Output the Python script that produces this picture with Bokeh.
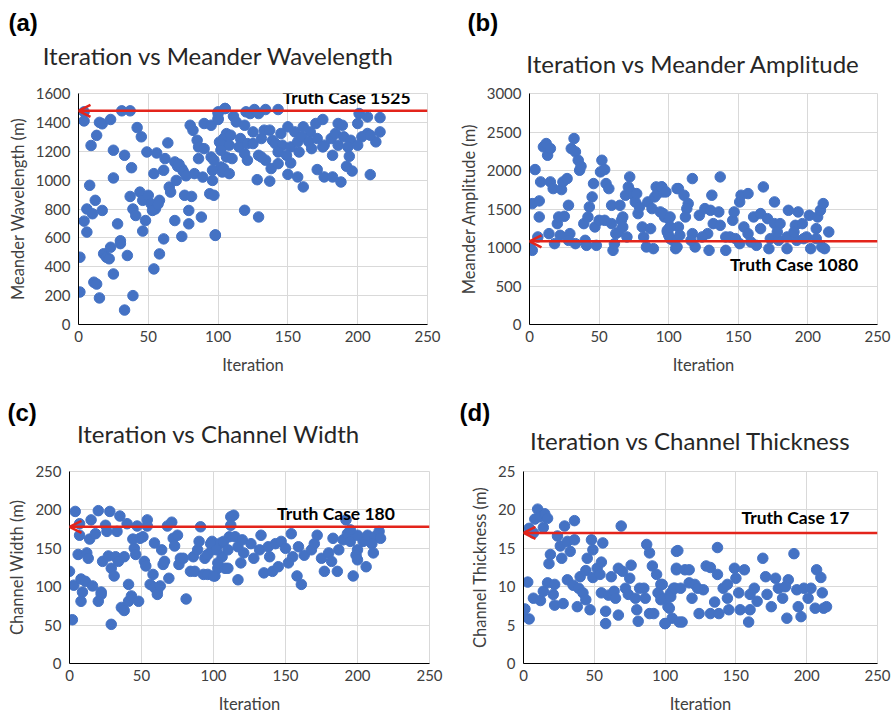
from bokeh.plotting import figure
from bokeh.layouts import column, row
from bokeh.models import Arrow, OpenHead, Label, Range1d, SingleIntervalTicker
from bokeh.embed import file_html
from bokeh.resources import INLINE

# ---------------- data ----------------
a_iter = [1,1,4,4,4,6,6,9,8,10,12,13,15,17,17,11,13,15,18,20,22,23,23,25,25,25,28,30,30,31,33,33,35,37,37,38,39,39,41,42,44,45,46,46,48,49,50,52,54,54,55,56,58,58,61,61,62,64,65,66,69,70,71,74,74,76,79,79,80,81,82,83,85,86,86,88,89,90,90,94,95,96,98,100,100,101,102,103,105,106,106,
          69,72,75,77,53,57,
          95,100,105,100,111,113,119,120,123,126,129,134,143,125,133,137,145,150,155,161,166,170,175,186,189,201,207,216,216,213,207,200,
          104,109,116,102,108,115,121,125,131,139,141,146,152,157,160,165,171,176,181,184,190,195,203,209,
          102,110,119,129,134,143,149,158,167,175,182,186,193,194,200,
          97,96,104,108,121,128,131,138,137,143,150,152,157,161,171,176,182,188,192,196,209,97,119,129,98]
a_val = [225,466,1473,1410,716,640,800,1240,964,767,860,1310,1400,1390,790,293,280,184,490,466,455,535,1420,1207,1015,350,697,580,560,1480,1172,100,478,1480,887,1086,200,800,755,1364,917,1300,860,647,720,1195,895,836,1045,385,800,1188,860,489,1068,593,1149,1258,952,917,720,998,1096,1079,610,895,697,790,1380,887,1345,1045,1276,1230,1149,744,1021,1392,1218,906,1160,998,621,1473,1427,1264,1091,1056,1496,1160,1322,
         1126,1110,1062,1030,790,835,
         1380,1461,1496,1420,1443,1403,1380,1473,1461,1489,1461,1489,1489,1334,1346,1346,1323,1369,1334,1369,1334,1392,1420,1392,1380,1461,1438,1433,1334,1265,1323,1392,
         1288,1311,1288,1253,1242,1230,1253,1253,1288,1276,1253,1242,1230,1265,1300,1265,1288,1242,1288,1323,1300,1276,1300,1311,
         1207,1149,1184,1172,1138,1195,1172,1195,1218,1230,1172,1242,1230,1165,1242,
         1138,1068,1080,1045,1138,1003,1160,1080,993,1114,1040,1119,1022,953,1073,1022,1022,987,1096,1063,1038,895,791,745,617]

b_iter = [0,2,2,4,6,7,7,8,10,12,13,15,14,15,17,18,20,21,22,23,24,25,27,28,29,28,30,32,33,35,36,37,33,39,40,41,42,43,45,46,47,48,50,51,52,54,54,55,57,59,59,60,61,62,64,65,66,67,67,69,70,71,72,73,75,76,77,78,79,81,82,84,85,87,88,89,90,91,92,94,95,96,97,99,100,101,101,103,106,105,
          95,98,107,111,117,137,131,114,113,112,96,101,107,99,100,108,106,117,119,122,126,130,136,132,137,128,129,141,146,147,152,157,151,154,157,151,144,161,166,168,176,171,176,166,173,163,172,180,186,193,191,196,201,185,179,185,192,199,202,206,207,209,211,210,212,215,206,197,190,178,159,148,141,124,116,101]
b_val = [1028,963,1570,2012,1137,1397,1605,1852,2307,2350,2198,2285,1180,1852,1765,1050,1310,1397,1158,1752,1852,1405,1895,1548,1180,1093,2285,2415,2242,2133,2003,2055,1050,1310,1093,1028,1397,1527,1657,1830,1267,1028,1353,1982,2133,2012,1353,1830,1765,1310,1548,963,1050,1180,1202,1548,1353,1397,1267,1679,1137,1787,1917,1722,1679,1592,1700,1440,1527,1267,1137,1007,1592,1245,1505,985,1657,1787,1700,1462,1787,1722,1397,1202,1375,1267,1115,1093,1765,985,
         1787,1722,1765,1679,1895,1917,1679,1570,1505,1397,1440,1397,1267,1224,1158,1158,1007,1180,1007,1418,1505,1483,1462,1310,1288,1180,963,963,1353,1462,1679,1700,1592,1267,1180,1050,1137,1397,1440,1787,1592,1375,1310,1245,1115,1028,985,1310,1483,1462,1288,1310,1418,1137,1093,985,1093,1137,985,1245,1397,1483,1570,1007,985,1202,1115,1115,1202,1202,1072,1115,1137,1137,1093,1267]

c_iter = [0,2,3,4,6,7,7,8,9,8,11,12,13,14,15,16,18,20,20,22,22,23,25,26,27,28,29,29,31,32,33,34,35,36,38,38,41,40,41,43,44,45,46,47,48,49,51,52,53,54,54,56,58,59,59,61,61,63,64,65,66,69,68,71,72,73,75,76,77,79,81,84,86,87,89,90,91,93,94,96,96,99,99,101,103,105,106,108,111,112,
          114,112,115,107,98,102,110,117,120,126,133,132,121,128,103,110,119,117,100,138,139,135,141,145,143,147,150,154,155,152,158,161,159,163,168,172,170,177,175,180,183,182,186,187,190,192,193,195,200,197,199,200,204,206,207,211,212,215,216,210,200,195]
c_val = [120,57,102,198,142,167,182,110,93,81,107,144,137,162,187,101,169,199,81,90,93,133,180,172,140,198,51,124,114,139,172,133,192,73,69,139,103,182,81,88,162,150,142,179,81,163,165,133,127,187,179,103,116,99,157,94,90,101,148,129,133,111,179,184,163,153,167,129,137,137,84,120,139,120,148,159,178,116,137,116,142,159,148,114,124,157,139,124,165,191,
         193,180,165,159,156,148,148,152,161,156,167,148,144,137,131,124,131,109,114,152,139,118,120,126,156,159,150,169,139,131,114,103,152,141,148,167,156,120,137,144,163,133,120,148,161,187,169,159,148,114,141,135,159,126,167,144,165,172,163,156,167,174]

d_iter = [0,1,4,3,4,7,7,8,10,12,12,14,15,17,14,18,19,17,21,22,22,24,26,27,28,29,31,31,33,35,36,36,38,39,40,42,44,45,44,47,48,49,49,52,54,55,56,55,58,58,60,62,64,65,67,67,69,70,72,74,75,76,79,80,81,82,85,86,87,89,91,89,92,94,95,97,99,100,102,104,105,106,108,108,110,
          98,97,100,103,104,107,109,108,112,114,117,117,121,119,124,127,129,132,137,137,132,135,138,141,144,145,149,150,152,153,156,159,160,163,165,169,171,172,175,178,180,183,186,187,191,193,194,196,198,201,203,207,210,211,212,214,206,185,160,144,123,111]
d_val = [6.1,7.1,5.8,10.6,17.6,17.0,8.5,18.8,20.1,8.2,19.1,17.7,19.5,18.9,9.4,13.0,14.2,10.5,9.0,10.3,7.6,16.6,15.3,13.7,7.8,17.9,10.9,15.9,14.6,10.2,18.6,16.1,7.4,9.8,11.3,9.2,8.3,13.7,12.1,7.0,16.1,11.2,14.8,12.4,11.6,13.2,15.7,9.2,5.2,6.8,8.9,11.3,9.4,8.5,6.3,12.4,17.9,12.0,9.8,9.0,11.1,12.8,8.5,7.0,5.5,9.8,9.8,8.5,15.5,14.4,12.7,6.5,6.5,11.6,9.2,10.3,8.5,5.2,7.4,9.2,5.9,9.8,14.6,12.2,5.4,
         10.3,8.3,5.2,7.2,8.7,9.8,14.7,12.4,5.4,12.2,12.2,10.5,10.3,8.5,6.5,9.6,12.7,12.5,11.6,15.1,6.5,8.0,6.5,9.8,8.5,7.0,12.4,11.1,9.2,7.0,12.2,5.4,7.0,9.8,8.1,13.7,11.3,9.0,7.4,11.1,9.8,8.5,5.9,10.9,14.3,9.6,7.4,6.1,9.8,8.5,9.8,12.2,11.2,9.2,7.2,7.4,7.2,10.0,9.0,10.3,9.8,9.8]

titles = ["Iteration vs Meander Wavelength", "Iteration vs Meander Amplitude",
          "Iteration vs Channel Width", "Iteration vs Channel Thickness"]
panel_tags = ["(a)", "(b)", "(c)", "(d)"]
y_labels = ["Meander Wavelength (m)", "Meander Amplitude (m)", "Channel Width (m)", "Channel Thickness (m)"]
truth_vals = [1480, 1080, 178, 17]
truth_texts = ["Truth Case 1525", "Truth Case 1080", "Truth Case 180", "Truth Case 17"]
y_max = [1600, 3000, 250, 25]
y_step = [200, 500, 50, 5]

BLUE = "#4472C4"
RED = "#E3241B"
GRID = "#D9D9D9"
TXT = "#404040"
FONT = "Lato"
PAGE_W = 894


def make_header(idx, height, tag_pos, title_pos):
    """A full-width strip holding the panel letters and chart titles of one row."""
    h = figure(width=PAGE_W, height=height, output_backend="svg", toolbar_location=None,
               x_range=Range1d(0, PAGE_W), y_range=Range1d(0, height),
               x_axis_type=None, y_axis_type=None, min_border=0)
    h.outline_line_color = None
    h.background_fill_color = "white"
    h.border_fill_color = "white"
    for i, tp, ttp in zip(idx, tag_pos, title_pos):
        h.add_layout(Label(x=tp[0], y=tp[1], text=panel_tags[i],
                           text_font="Liberation Sans", text_font_style="bold",
                           text_font_size="24px", text_color="black", text_baseline="middle"))
        h.add_layout(Label(x=ttp[0], y=ttp[1], text=titles[i], text_font=FONT,
                           text_font_size="24px", text_color="#262626",
                           text_align="center", text_baseline="middle"))
    return h


def make_panel(i, xs, ys, width, height, borders, truth_pos):
    bl, br, bt, bb = borders
    p = figure(width=width, height=height, output_backend="svg", toolbar_location=None,
               x_range=Range1d(0, 250), y_range=Range1d(0, y_max[i]),
               min_border_left=bl, min_border_right=br, min_border_top=bt, min_border_bottom=bb)
    p.background_fill_color = "white"
    p.border_fill_color = "white"
    p.outline_line_color = GRID
    p.xaxis.ticker = SingleIntervalTicker(interval=50)
    p.yaxis.ticker = SingleIntervalTicker(interval=y_step[i])
    for ax in (p.xaxis[0], p.yaxis[0]):
        ax.major_tick_line_color = None
        ax.minor_tick_line_color = None
        ax.major_tick_out = 0
        ax.major_tick_in = 0
        ax.minor_tick_out = 0
        ax.axis_line_color = "black"
        ax.axis_line_width = 1
        ax.major_label_text_font = FONT
        ax.major_label_text_font_size = "15px"
        ax.major_label_text_color = TXT
        ax.axis_label_text_font = FONT
        ax.axis_label_text_font_size = "16.5px"
        ax.axis_label_text_font_style = "normal"
        ax.axis_label_text_color = TXT
    p.xaxis.axis_label = "Iteration"
    p.yaxis.axis_label = y_labels[i]
    p.xaxis.major_label_standoff = 6
    p.yaxis.major_label_standoff = 8
    p.xaxis.axis_label_standoff = 10
    p.yaxis.axis_label_standoff = 5
    p.xgrid.grid_line_color = GRID
    p.ygrid.grid_line_color = GRID
    p.xgrid.ticker = SingleIntervalTicker(interval=50)
    p.ygrid.ticker = SingleIntervalTicker(interval=y_step[i])

    p.scatter(xs, ys, size=10.5, color=BLUE, line_color=BLUE)

    p.add_layout(Arrow(end=OpenHead(size=12, line_color=RED, line_width=2.5),
                       x_start=250, y_start=truth_vals[i], x_end=0, y_end=truth_vals[i],
                       line_color=RED, line_width=2.5))
    p.add_layout(Label(x=truth_pos[0], y=truth_pos[1], text=truth_texts[i],
                       text_font=FONT, text_font_style="bold", text_font_size="17.5px",
                       text_color="black", text_align="center", text_baseline="middle"))
    return p


h_top = make_header([0, 1], 83, [(8, 61), (467, 61)], [(218, 28), (693, 20)])
h_bot = make_header([2, 3], 81, [(7, 49), (459, 49)], [(218, 28), (690, 21)])

pa = make_panel(0, a_iter, a_val, 450, 297, (78, 23, 10, 56), (192, 1570))
pb = make_panel(1, b_iter, b_val, 444, 297, (79, 17, 10, 56), (190, 780))
pc = make_panel(2, c_iter, c_val, 450, 256, (69, 21, 10, 54), (185, 195))
pd = make_panel(3, d_iter, d_val, 444, 256, (73, 17, 10, 54), (192, 19))

layout = column(h_top, row(pa, pb), h_bot, row(pc, pd))
open("out.html", "w").write(file_html(layout, INLINE))
